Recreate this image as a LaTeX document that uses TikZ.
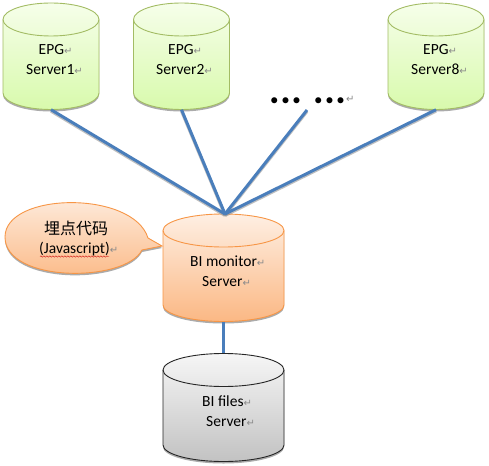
\documentclass[tikz,border=0pt]{standalone}
\usepackage{fontspec}
\setmainfont{Carlito}
\newfontfamily\cjkf{Noto Sans CJK SC}
\newfontfamily\symf{DejaVu Sans}
\usetikzlibrary{decorations.pathmorphing}
\definecolor{gT}{HTML}{F6FEEA}\definecolor{gB}{HTML}{D8FAAC}\definecolor{gE}{HTML}{A3BC64}
\definecolor{oT}{HTML}{FEEFE3}\definecolor{oB}{HTML}{FBB884}\definecolor{oE}{HTML}{F79646}
\definecolor{kT}{HTML}{F6F6F6}\definecolor{kB}{HTML}{C2C2C2}\definecolor{kE}{HTML}{262626}
\definecolor{wire}{HTML}{4A7EBB}\definecolor{retc}{HTML}{8A8A8A}
\newcommand{\ret}{{\symf\fontsize{10}{10}\selectfont\textcolor{retc}{↵}}}
\newcommand{\tripledot}{•\kern2.6pt•\kern2.6pt•}
\tikzset{
  x=1pt,y=-1pt,
  green cyl/.style={top color=gT,bottom color=gB},
  orange cyl/.style={top color=oT,bottom color=oB},
  grey cyl/.style={top color=kT,bottom color=kB},
  edge line/.style={line width=0.9pt},
  lab/.style={anchor=base west,inner sep=0pt,font=\fontsize{15.5}{15.5}\selectfont},
  dotlab/.style={inner sep=0pt,font=\fontsize{17}{17}\selectfont},
  wire line/.style={draw=wire,line width=3pt},
  wire shadow/.style={draw=black!45,line width=3pt,opacity=.55,transform canvas={yshift=-1.5pt}},
}
% name, cx, rx, ctr y, end y, fill style, edge colour
\newcommand{\srv}[7]{%
  \fill[black!60,opacity=.55] (#2-#3,#4+2) arc[start angle=180,end angle=0,x radius=#3 pt,y radius=16.5pt] -- (#2+#3,#5+2) arc[start angle=0,end angle=-180,x radius=#3 pt,y radius=16.5pt] -- cycle;
  \path[#6,draw=#7,edge line] (#2-#3,#4) arc[start angle=180,end angle=0,x radius=#3 pt,y radius=16.5pt] -- (#2+#3,#5) arc[start angle=0,end angle=-180,x radius=#3 pt,y radius=16.5pt] -- cycle;
  \draw[#7,edge line] (#2-#3,#4) arc[start angle=180,end angle=360,x radius=#3 pt,y radius=16.5pt];
  \node[inner sep=0pt,minimum width={#3*2pt},minimum height={(#5-#4+33)*1pt}] (#1) at (#2,{(#4+#5)/2}) {};
}
\begin{document}
\begin{tikzpicture}
\useasboundingbox[fill=white] (0,0) rectangle (489,465);
\srv{s1}{51}{48}{19.5}{93}{green cyl}{gE}
\srv{s2}{181.5}{48}{19.5}{93}{green cyl}{gE}
\srv{s8}{436}{48}{19.5}{93}{green cyl}{gE}
\srv{mon}{223.5}{60.5}{230.5}{305}{orange cyl}{oE}
\srv{fil}{223.5}{60.5}{370}{445}{grey cyl}{kE}
% callout
\path[fill=black!60,opacity=.55] (148,240) .. controls (133,192) and (5,194) .. (5,239) .. controls (5,285) and (125,285) .. (142,252) -- (162,248) -- cycle;
\path[draw=oE,edge line,top color=oT,bottom color=oB] (148,238) .. controls (133,190) and (5,192) .. (5,237) .. controls (5,283) and (125,283) .. (142,250) -- (162,246) -- cycle;
\coordinate (hub) at (225,214);
\coordinate (midend) at (307,110);
\node[lab] (t1a) at (38.5,55) {EPG\ret};
\node[lab] (t1b) at (26,75) {Server1\ret};
\node[lab] (t2a) at (168,55) {EPG\ret};
\node[lab] (t2b) at (156,75) {Server2\ret};
\node[lab] (t8a) at (423,55) {EPG\ret};
\node[lab] (t8b) at (411,75) {Server8\ret};
\node[lab] (tma) at (190,266) {BI monitor\ret};
\node[lab] (tmb) at (202,286) {Server\ret};
\node[lab] (tfa) at (202,406) {BI files\ret};
\node[lab] (tfb) at (206,426) {Server\ret};
\node[anchor=base west,inner sep=0pt,font=\cjkf\fontsize{16}{16}\selectfont] (tc) at (44,234) {埋点代码};
\node[lab] (tj) at (39,253) {(Javascript)\ret};
\draw[red!80!black,line width=0.35pt,decorate,decoration={snake,amplitude=0.7pt,segment length=3pt}] (40,256.5) -- (109,256.5);
\node[dotlab,anchor=base] (dots1) at (285.5,106) {\tripledot};
\node[dotlab,anchor=base] (dots2) at (329.5,106) {\tripledot};
\node[anchor=base west,inner sep=0pt] (dret) at (346,103) {\ret};
\foreach \a in {s1,s2,s8}{\draw[wire shadow] (\a.south) -- (hub);}
\draw[wire shadow] (midend) -- (hub);
\foreach \a in {s1,s2,s8}{\draw[wire line] (\a.south) -- (hub);}
\draw[wire line] (midend) -- (hub);
\draw[wire line] (mon.south) -- (fil.north);
\end{tikzpicture}
\end{document}
